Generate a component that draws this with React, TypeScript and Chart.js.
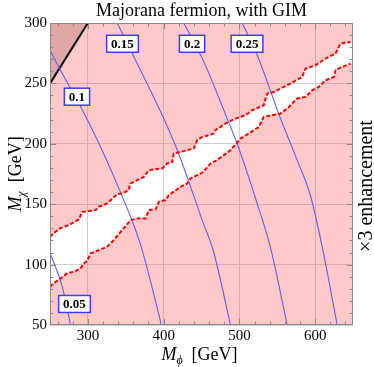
import { useEffect, useRef } from "react";
import { Chart, registerables } from "chart.js";

Chart.register(...registerables);

const xTicks = [300, 400, 500, 600];
const yTicks = [50, 100, 150, 200, 250, 300];

// upper edge of the allowed (white) band
const upperBoundary: [number, number][] = [
  [250, 123.0], [257.3, 127.2], [263.9, 130.2], [274.8, 132.7], [288.0, 137.4],
  [292.5, 143.7], [301.2, 144.3], [310.1, 145.1], [314.4, 147.8], [325.5, 150.6],
  [338.7, 158.3], [345.3, 158.9], [353.6, 161.6], [356.3, 167.2], [365.1, 169.9],
  [373.8, 172.6], [380.4, 178.2], [398.1, 179.6], [404.7, 183.7], [411.3, 185.0],
  [413.4, 192.0], [422.3, 193.3], [431.1, 194.7], [439.8, 196.1], [444.3, 203.0],
  [450.9, 205.7], [459.6, 207.1], [466.2, 208.5], [468.5, 211.3], [481.7, 216.8],
  [494.9, 220.9], [508.1, 223.7], [516.9, 227.8], [532.2, 231.9], [536.7, 241.6],
  [545.4, 242.9], [558.6, 247.1], [567.5, 249.9], [582.9, 255.3], [587.3, 262.3],
  [600.5, 265.0], [613.7, 270.6], [626.9, 274.7], [633.5, 283.0], [646.7, 284.3],
];

// lower edge of the allowed (white) band
const lowerBoundary: [number, number][] = [
  [250, 81.7], [255.0, 84.5], [263.9, 88.6], [272.7, 92.8], [281.4, 94.1],
  [290.3, 96.9], [294.6, 101.0], [299.1, 103.2], [303.5, 109.3], [314.4, 112.0],
  [325.5, 114.8], [332.1, 118.9], [345.3, 128.6], [356.3, 136.8], [365.1, 138.2],
  [376.1, 138.2], [380.4, 145.1], [389.3, 145.7], [393.6, 152.0], [402.5, 153.4],
  [406.8, 157.5], [422.3, 164.4], [431.1, 167.2], [435.5, 171.3], [444.3, 174.1],
  [450.9, 176.0], [461.9, 183.7], [470.7, 186.5], [479.4, 190.6], [488.3, 194.7],
  [501.5, 204.4], [512.4, 208.5], [525.6, 214.0], [532.2, 222.3], [543.3, 223.7],
  [554.3, 225.1], [565.3, 230.5], [571.8, 234.7], [576.3, 237.5], [587.3, 238.8],
  [596.1, 244.3], [604.8, 247.1], [613.7, 252.6], [624.6, 255.3], [626.9, 260.9],
  [635.7, 263.6], [646.7, 266.4],
];

const diagonal: [number, number][] = [[250, 250], [300, 300]];

const contour005: [number, number][] = [[250, 109.4], [256, 100], [263.7, 87], [270, 72], [277, 50]];
const contour010: [number, number][] = [
  [250, 277.5], [263, 262], [285, 237], [300, 219], [320, 193], [343, 160],
  [363, 128.6], [371.7, 112], [384, 83], [397, 50],
];
const contour015: [number, number][] = [
  [338.7, 300], [369.5, 260.9], [400.2, 220.9], [420.0, 191.5], [450.9, 136.8],
  [466.2, 110.0], [488.3, 50],
];
const contour020: [number, number][] = [
  [426.6, 300], [453.0, 268.0], [483.9, 220.9], [497.1, 200.0], [523.5, 150.6],
  [541.1, 114.0], [563.1, 50],
];
const contour025: [number, number][] = [
  [503.7, 300], [523.5, 273.5], [554.3, 220.9], [576.3, 186.5], [593.9, 157.0],
  [609.3, 114.8], [629.1, 50],
];

const labelTexts = ["0.05", "0.1", "0.15", "0.2", "0.25"];
const labelX = [282.3, 285.6, 345.7, 437.5, 510.1];
const labelY = [67.4, 239.0, 282.8, 282.8, 282.8];

const SERIF = "'Liberation Serif', 'DejaVu Serif', serif";
const pts = (a: [number, number][]) => a.map(([x, y]) => ({ x, y }));
const extend = (a: [number, number][]) => {
  const last = a[a.length - 1];
  return pts([...a, [650, last[1]]]);
};

export default function App() {
  const ref = useRef<HTMLCanvasElement | null>(null);
  useEffect(() => {
    if (!ref.current) return;
    const blue = "rgb(95,95,245)";
    const contourDs = (d: [number, number][]) => ({
      data: pts(d),
      borderColor: blue,
      borderWidth: 1.1,
      pointRadius: 0,
      fill: false,
      cubicInterpolationMode: "monotone",
    });

    const labelsPlugin = {
      id: "contourLabels",
      afterDatasetsDraw(chart: any) {
        const { ctx, scales } = chart;
        ctx.save();
        ctx.font = `bold 13px ${SERIF}`;
        ctx.textAlign = "center";
        ctx.textBaseline = "middle";
        labelTexts.forEach((t, i) => {
          const px = scales.x.getPixelForValue(labelX[i]);
          const py = scales.y.getPixelForValue(labelY[i]);
          const w = ctx.measureText(t).width + 9;
          const h = 17;
          ctx.fillStyle = "#fff";
          ctx.fillRect(px - w / 2, py - h / 2, w, h);
          ctx.strokeStyle = "rgb(60,60,250)";
          ctx.lineWidth = 1.5;
          ctx.strokeRect(px - w / 2, py - h / 2, w, h);
          ctx.fillStyle = "#000";
          ctx.fillText(t, px, py + 1);
        });
        ctx.restore();
      },
    };

    const framePlugin = {
      id: "frame",
      afterDatasetsDraw(chart: any) {
        const { ctx, chartArea: a, scales } = chart;
        ctx.save();
        ctx.strokeStyle = "#8a8a8a";
        ctx.lineWidth = 1;
        ctx.strokeRect(Math.round(a.left) + 0.5, Math.round(a.top) + 0.5, Math.round(a.right - a.left) - 1, Math.round(a.bottom - a.top) - 1);
        ctx.beginPath();
        for (let v = 260; v < 650; v += 20) {
          const major = v % 100 === 0;
          const len = major ? 6 : 3.5;
          const px = Math.round(scales.x.getPixelForValue(v)) + 0.5;
          ctx.moveTo(px, a.bottom);
          ctx.lineTo(px, a.bottom - len);
          ctx.moveTo(px, a.top);
          ctx.lineTo(px, a.top + len);
        }
        for (let v = 60; v < 300; v += 10) {
          const major = v % 50 === 0;
          const len = major ? 6 : 3.5;
          const py = Math.round(scales.y.getPixelForValue(v)) + 0.5;
          ctx.moveTo(a.left, py);
          ctx.lineTo(a.left + len, py);
          ctx.moveTo(a.right, py);
          ctx.lineTo(a.right - len, py);
        }
        ctx.stroke();
        ctx.restore();
      },
    };

    const textPlugin = {
      id: "texts",
      afterDraw(chart: any) {
        const { ctx, chartArea: a } = chart;
        const cx = (a.left + a.right) / 2;
        const cy = (a.top + a.bottom) / 2;
        ctx.save();
        ctx.fillStyle = "#000";
        ctx.textBaseline = "alphabetic";
        // title
        ctx.font = `18px ${SERIF}`;
        ctx.textAlign = "center";
        ctx.fillText("Majorana fermion, with GIM", cx, 16);

        const drawAxisTitle = (sub: string) => {
          ctx.font = `italic 18px ${SERIF}`;
          const wM = ctx.measureText("M").width;
          ctx.font = `italic 12px ${SERIF}`;
          const wS = ctx.measureText(sub).width;
          ctx.font = `18px ${SERIF}`;
          const wR = ctx.measureText("  [GeV]").width;
          const total = wM + wS + wR;
          let x0 = -total / 2;
          ctx.textAlign = "left";
          ctx.font = `italic 18px ${SERIF}`;
          ctx.fillText("M", x0, 0);
          x0 += wM;
          ctx.font = `italic 12px ${SERIF}`;
          ctx.fillText(sub, x0, 4);
          x0 += wS;
          ctx.font = `18px ${SERIF}`;
          ctx.fillText("  [GeV]", x0, 0);
        };
        // x axis title
        ctx.save();
        ctx.translate(cx - 2, 360);
        drawAxisTitle("\u03d5");
        ctx.restore();
        // y axis title
        ctx.save();
        ctx.translate(21, cy);
        ctx.rotate(-Math.PI / 2);
        drawAxisTitle("\u03c7");
        ctx.restore();
        // right label
        ctx.save();
        ctx.translate(372, 186);
        ctx.rotate(-Math.PI / 2);
        ctx.font = `20px ${SERIF}`;
        ctx.textAlign = "center";
        ctx.fillText("\u00d73 enhancement", 0, 0);
        ctx.restore();
        ctx.restore();
      },
    };

    const chart = new Chart(ref.current, {
      type: "line",
      data: {
        datasets: [
          {
            data: pts(upperBoundary),
            borderColor: "rgb(255,0,0)",
            borderWidth: 2,
            borderDash: [4, 2],
            pointRadius: 0,
            fill: false,
            tension: 0,
          },
          {
            data: pts(lowerBoundary),
            borderColor: "rgb(255,0,0)",
            borderWidth: 2,
            borderDash: [4, 2],
            pointRadius: 0,
            fill: false,
            tension: 0,
          },
          contourDs(contour005),
          contourDs(contour010),
          contourDs(contour015),
          contourDs(contour020),
          contourDs(contour025),
          {
            data: pts(diagonal),
            borderColor: "#000",
            borderWidth: 2,
            pointRadius: 0,
            fill: "end",
            backgroundColor: "rgba(90,20,20,0.19)",
            tension: 0,
          },
          {
            data: extend(upperBoundary),
            borderWidth: 0,
            borderColor: "rgba(0,0,0,0)",
            pointRadius: 0,
            fill: "end",
            backgroundColor: "rgba(255,100,100,0.35)",
            tension: 0,
          },
          {
            data: extend(lowerBoundary),
            borderWidth: 0,
            borderColor: "rgba(0,0,0,0)",
            pointRadius: 0,
            fill: "start",
            backgroundColor: "rgba(255,100,100,0.35)",
            tension: 0,
          },
        ],
      },
      options: {
        animation: false,
        responsive: true,
        maintainAspectRatio: false,
        layout: { padding: { left: 0, right: 21, top: 23, bottom: 0 } },
        plugins: { legend: { display: false }, tooltip: { enabled: false }, title: { display: false } },
        scales: {
          x: {
            type: "linear",
            min: 250,
            max: 650,
            afterBuildTicks: (s: any) => {
              s.ticks = xTicks.map((v) => ({ value: v }));
            },
            afterFit: (s: any) => {
              s.height = 42;
            },
            grid: { color: "#cfcfcf", lineWidth: 1, drawTicks: false },
            border: { display: false },
            ticks: { font: { family: SERIF, size: 15 }, color: "#000", padding: 2, maxRotation: 0 },
          },
          y: {
            type: "linear",
            min: 50,
            max: 300,
            afterBuildTicks: (s: any) => {
              s.ticks = yTicks.map((v) => ({ value: v }));
            },
            afterFit: (s: any) => {
              s.width = 50;
            },
            grid: { color: "#cfcfcf", lineWidth: 1, drawTicks: false },
            border: { display: false },
            ticks: { font: { family: SERIF, size: 15 }, color: "#000", padding: 3 },
          },
        },
      },
      plugins: [labelsPlugin, framePlugin, textPlugin],
    } as any);
    return () => chart.destroy();
  }, []);

  return (
    <div style={{ position: "absolute", left: 0, top: 0, width: 374, height: 367, background: "#fff" }}>
      <canvas ref={ref} />
    </div>
  );
}
